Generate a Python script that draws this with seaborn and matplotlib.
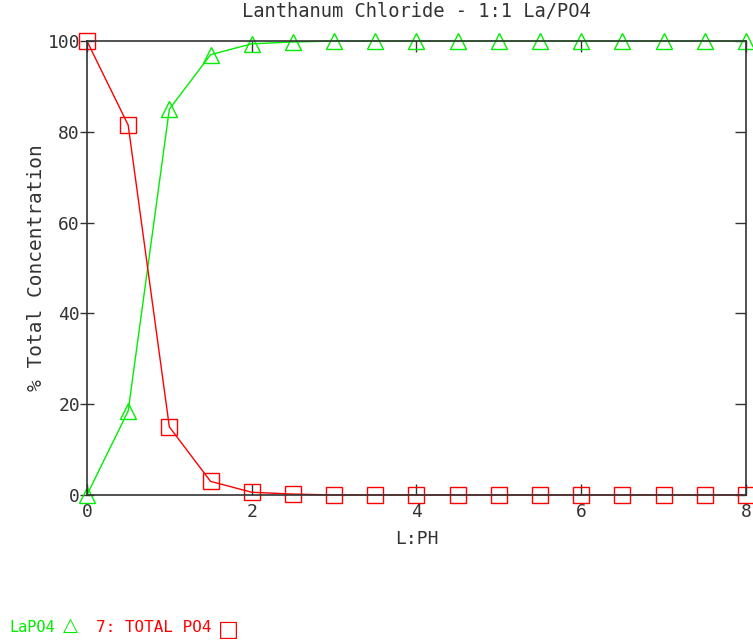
import matplotlib
matplotlib.use("Agg")
import matplotlib.pyplot as plt
import seaborn as sns
import pandas as pd

ph = [0, 0.5, 1, 1.5, 2, 2.5, 3, 3.5, 4, 4.5, 5, 5.5, 6, 6.5, 7, 7.5, 8]
lapo4 = [0, 18.5, 85, 97, 99.4, 99.8, 100, 100, 100, 100, 100, 100, 100, 100, 100, 100, 100]
total_po4 = [100, 81.5, 15, 3, 0.6, 0.2, 0, 0, 0, 0, 0, 0, 0, 0, 0, 0, 0]
series_names = ["LaPO4", "7: TOTAL PO4"]
colors = ["#00ee00", "#ff0000"]

sns.set_style("white")
plt.rcParams['font.family'] = ['DejaVu Sans Mono', 'DejaVu Sans']

fig = plt.figure(figsize=(7.53, 6.42), dpi=100)
ax = fig.add_axes([0.1155, 0.229, 0.8752, 0.707])

df = pd.DataFrame({"ph": ph, "LaPO4": lapo4, "TOTAL": total_po4})
sns.lineplot(data=df, x="ph", y="LaPO4", ax=ax, color=colors[0], lw=1,
             marker="^", markersize=12, markerfacecolor="none",
             markeredgecolor=colors[0], markeredgewidth=1, clip_on=False)
sns.lineplot(data=df, x="ph", y="TOTAL", ax=ax, color=colors[1], lw=1,
             marker="s", markersize=12, markerfacecolor="none",
             markeredgecolor=colors[1], markeredgewidth=1, clip_on=False)

ax.set_xlim(0, 8)
ax.set_ylim(0, 100)
ax.set_xticks([0, 2, 4, 6, 8])
ax.set_yticks([0, 20, 40, 60, 80, 100])
for s in ax.spines.values():
    s.set_color("#333333")
    s.set_linewidth(1.2)
ax.tick_params(axis="x", direction="in", length=8, width=1, colors="#333333",
               labelsize=13, top=True, bottom=True, pad=6)
ax.tick_params(axis="y", direction="inout", length=10, width=1, colors="#333333",
               labelsize=13, left=True, right=False, pad=0)

sec = ax.secondary_yaxis("right")
sec.set_yticks([0, 20, 40, 60, 80, 100])
sec.tick_params(direction="in", length=8, width=1, colors="#333333", labelright=False)
sec.spines["right"].set_visible(False)

ax.set_xlabel("L:PH", fontsize=13, color="#333333", labelpad=6)
ax.set_ylabel("% Total Concentration", fontsize=14, color="#333333", labelpad=1)
ax.set_title("Lanthanum Chloride - 1:1 La/PO4", fontsize=13.5, color="#333333", pad=17)

# legend-like annotation at bottom
fig.text(0.012, 0.016, series_names[0], color=colors[0], fontsize=11)
fig.text(0.083, 0.017, "\u25b3", color=colors[0], fontsize=14, family=['DejaVu Sans'])
fig.text(0.127, 0.016, series_names[1], color=colors[1], fontsize=11.5)
fig.text(0.290, 0.010, "\u25a1", color=colors[1], fontsize=16, family=['DejaVu Sans'])

fig.savefig("out.png", dpi=100)
